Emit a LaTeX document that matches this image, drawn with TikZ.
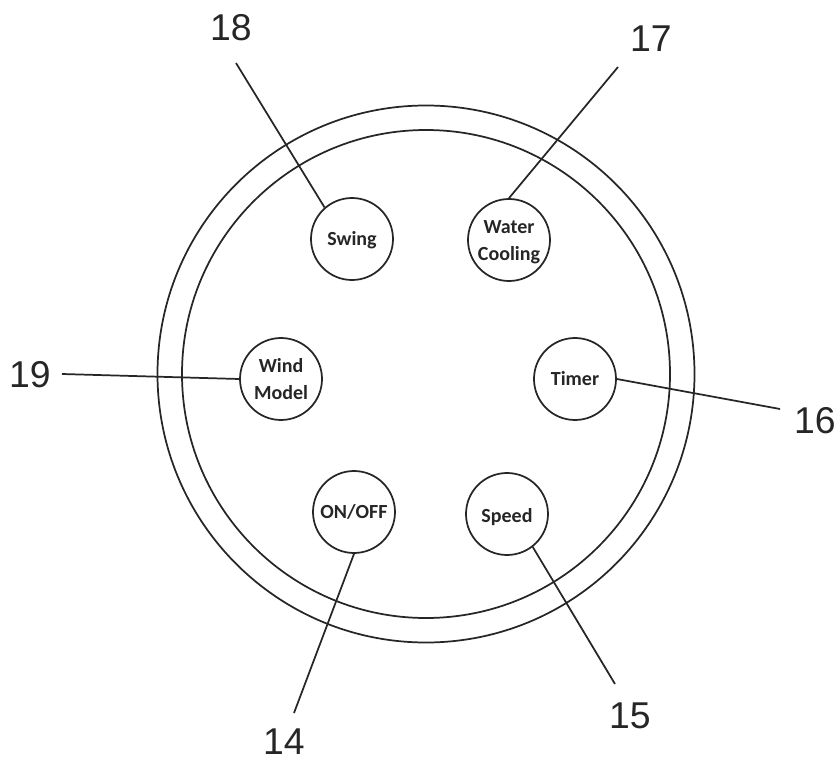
\documentclass[tikz,border=0pt]{standalone}
\usepackage{fontspec}
\setmainfont{Liberation Sans}
\newfontfamily\btnfont{Carlito}
\newcommand{\shifted}[2]{\raisebox{#1}[\height][\depth]{#2}}
\tikzset{
 btn/.style={circle,draw=black!85,line width=1.3pt,minimum size=82*0.75pt,inner sep=0pt,align=center,font=\btnfont\bfseries\fontsize{15}{20}\selectfont,text=black!85},
 num/.style={inner sep=0pt,font=\fontsize{28}{30}\selectfont,text=black!85},
 lead/.style={line width=1.3pt,draw=black!85},
 ring/.style={line width=1.3pt,draw=black!85}
}
\begin{document}
\begin{tikzpicture}[x=0.75pt,y=-0.75pt]
\useasboundingbox (0,0) rectangle (840,760);
\fill[white] (0,0) rectangle (840,760);
\node[circle,ring,minimum size=537*0.75pt,inner sep=0pt] (outer) at (426,374) {};
\node[circle,ring,minimum size=488*0.75pt,inner sep=0pt] (inner) at (426,374) {};
\node[btn] (swing) at (352,239) {\shifted{-1pt}{Swing}};
\node[btn] (water) at (509,240) {\shifted{-1.5pt}{Water}\\\shifted{-1.5pt}{Cooling}};
\node[btn] (wind) at (281,379) {Wind\\Model};
\node[btn] (timer) at (575,379) {Timer};
\node[btn] (onoff) at (354,512) {ON/OFF};
\node[btn] (speed) at (507,514) {\shifted{-2.5pt}{Speed}};
\node[num] (n18) at (231,28) {18};
\node[num] (n17) at (651,39) {17};
\node[num] (n19) at (30,375) {19};
\node[num] (n16) at (815,421) {16};
\node[num] (n15) at (630,716) {15};
\node[num] (n14) at (284,742) {14};
\coordinate (a18) at (236,63);
\coordinate (a17) at (618,67);
\coordinate (a19) at (62,374);
\coordinate (a16) at (780,409);
\coordinate (a15) at (615,684);
\coordinate (a14) at (294,713);
\draw[lead] (a18) -- (swing.131);
\draw[lead] (a17) -- (water.90);
\draw[lead] (a19) -- (wind.180);
\draw[lead] (a16) -- (timer.0);
\draw[lead] (a15) -- (speed.-52);
\draw[lead] (a14) -- (onoff.-90);
\end{tikzpicture}
\end{document}
